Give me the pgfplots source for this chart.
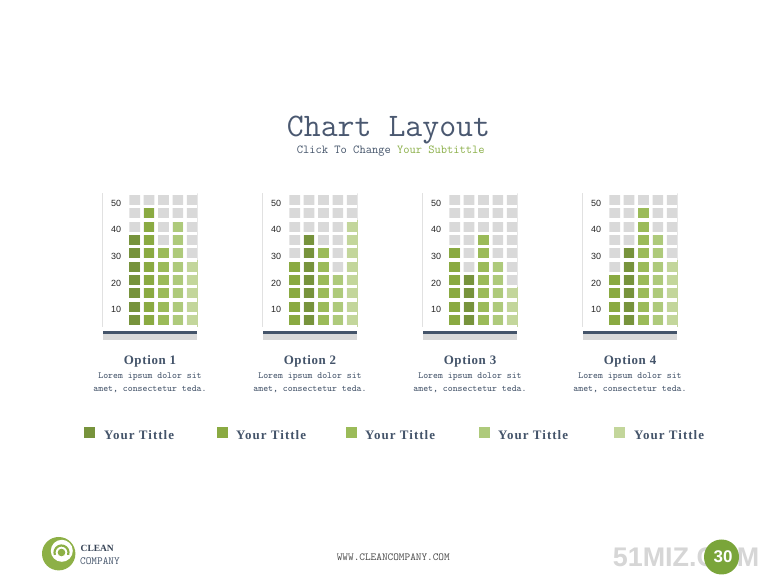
\documentclass[border=0pt]{standalone}
\usepackage{fontspec}
\setmainfont{Liberation Serif}
\usepackage{pgfplots}
\pgfplotsset{compat=1.18}
\newfontfamily\sansf{Liberation Sans}
\newfontfamily\legendf[LetterSpace=8]{Liberation Serif}
\newfontfamily\optionf[LetterSpace=5]{Liberation Serif}

\definecolor{g1}{HTML}{77933C}
\definecolor{g2}{HTML}{8AAA42}
\definecolor{g3}{HTML}{9BBB59}
\definecolor{g4}{HTML}{AECA7B}
\definecolor{g5}{HTML}{C3D69B}
\definecolor{cellgray}{HTML}{D9D9D9}
\definecolor{slate}{HTML}{44546A}
\definecolor{titlec}{HTML}{4A5870}
\definecolor{subgreen}{HTML}{8CB04A}
\definecolor{logog}{HTML}{8DB046}
\definecolor{markg}{HTML}{7AA53A}
\definecolor{wmark}{HTML}{D6D6D6}

\pgfplotsset{chartstyle/.style={
    scale only axis, width=94.6bp, height=133.33bp,
    xmin=-1.219, xmax=5.351, ymin=0, ymax=50,
    ybar, bar width=10.7bp, bar shift=0pt,
    axis x line=none, xtick=\empty,
    axis y line*=left,
    y axis line style={draw=cellgray!80, line width=0.7bp, -},
    ytick={7.5,17.5,27.5,37.5,47.5}, yticklabels={10,20,30,40,50},
    major tick length=0pt,
    minor ytick={0,5,...,50}, yminorgrids, minor tick length=0pt,
    minor grid style={white, line width=3.33bp},
    axis on top, clip=false,
    yticklabel style={font=\sansf\fontsize{9}{10}\selectfont, text=black!85,
        anchor=east, inner sep=0pt, xshift=18.7bp, yshift=-3bp},
}}

% #1 left edge, #2 colour of column 1, #3 colour of column 2, #4-#8 values
\newcommand{\optionchart}[8]{%
  \begin{axis}[at={(#1bp,258.33bp)}, anchor=south west, chartstyle]
    \addplot[fill=cellgray, draw=none] coordinates {(1,50)(2,50)(3,50)(4,50)(5,50)};
    \addplot[fill=#2, draw=none] coordinates {(1,#4)};
    \addplot[fill=#3, draw=none] coordinates {(2,#5)};
    \addplot[fill=g3, draw=none] coordinates {(3,#6)};
    \addplot[fill=g4, draw=none] coordinates {(4,#7)};
    \addplot[fill=g5, draw=none] coordinates {(5,#8)};
  \end{axis}%
}

\newcommand{\chartfoot}[2]{% #1 left edge, #2 number
  \fill[slate] (#1bp,254.3bp) rectangle ++(94.6bp,-3.3bp);
  \fill[cellgray] (#1bp,251bp) rectangle ++(94.6bp,-6bp);
  \node[anchor=base, inner sep=0pt, text=slate, font=\optionf\bfseries\fontsize{13}{15}\selectfont]
    at ({#1bp+47.3bp},220bp) {Option #2};
  \node[anchor=base, inner sep=0pt, text=slate, font=\ttfamily\fontsize{9.4}{11}\selectfont]
    at ({#1bp+47.3bp},206.5bp) {Lorem ipsum dolor sit};
  \node[anchor=base, inner sep=0pt, text=slate, font=\ttfamily\fontsize{9.4}{11}\selectfont]
    at ({#1bp+47.3bp},193bp) {amet, consectetur teda.};
}

\newcommand{\legitem}[3]{% #1 square left, #2 text left, #3 colour
  \fill[#3] (#1bp,158bp) rectangle ++(11bp,-11bp);
  \node[anchor=base west, inner sep=0pt, text=slate, font=\legendf\bfseries\fontsize{13}{15}\selectfont]
    at (#2bp,145bp) {Your Tittle};
}

\begin{document}
\begin{tikzpicture}
  \path[use as bounding box, fill=white] (0,0) rectangle (780bp,585bp);

  % title
  \node[anchor=base, inner sep=0pt, text=titlec, font=\ttfamily\fontsize{33}{36}\selectfont]
    at (388.5bp,448bp) {Chart Layout};
  \node[anchor=base, inner sep=0pt, text=slate, font=\ttfamily\fontsize{12.2}{14}\selectfont]
    at (390.8bp,431bp) {Click To Change \textcolor{subgreen}{Your Subtittle}};

  % charts
  \optionchart{102.7}{g1}{g2}{35}{45}{30}{40}{25}
  \optionchart{262.7}{g2}{g1}{25}{35}{30}{20}{40}
  \optionchart{422.7}{g2}{g1}{30}{20}{35}{25}{15}
  \optionchart{582.7}{g2}{g1}{20}{30}{45}{35}{25}

  \chartfoot{102.7}{1}
  \chartfoot{262.7}{2}
  \chartfoot{422.7}{3}
  \chartfoot{582.7}{4}

  % legend
  \legitem{84}{104}{g1}
  \legitem{217}{236}{g2}
  \legitem{346}{365}{g3}
  \legitem{479}{498}{g4}
  \legitem{614}{634}{g5}

  % footer logo
  \fill[logog] (58.7bp,31.3bp) circle (16.7bp);
  \fill[white] (61.8bp,34.2bp) circle (11bp);
  \draw[logog, line width=2.2bp] (61.5bp,32.5bp) ++(-20:7bp) arc[start angle=-20, end angle=200, radius=7bp];
  \fill[logog] (61.5bp,32.5bp) circle (3.8bp);
  \node[anchor=base west, inner sep=0pt, text=slate!80!black, font=\bfseries\fontsize{9.5}{11}\selectfont]
    at (80.5bp,33.3bp) {CLEAN};
  \node[anchor=base west, inner sep=0pt, text=slate, font=\ttfamily\fontsize{11}{12}\selectfont]
    at (80bp,21bp) {COMPANY};
  \node[anchor=base, inner sep=0pt, text=black!70, font=\ttfamily\fontsize{10.8}{12}\selectfont]
    at (393.3bp,24.3bp) {WWW.CLEANCOMPANY.COM};

  % watermark and page number
  \node[anchor=base west, inner sep=0pt, text=wmark, font=\sansf\bfseries\fontsize{27}{30}\selectfont]
    at (612.7bp,18.3bp) {51MIZ.COM};
  \fill[markg] (721.5bp,28bp) circle (17.5bp);
  \node[inner sep=0pt, text=white, font=\sansf\bfseries\fontsize{17}{19}\selectfont]
    at (723bp,28.5bp) {30};
\end{tikzpicture}
\end{document}
